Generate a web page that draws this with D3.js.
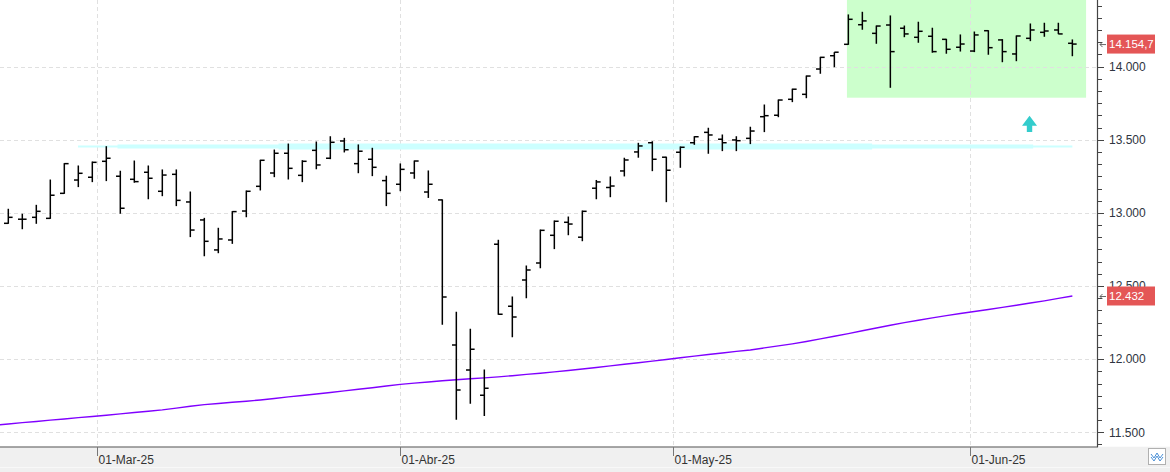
<!DOCTYPE html>
<html><head><meta charset="utf-8">
<script src="https://cdn.jsdelivr.net/npm/d3@7"></script>
<style>
html,body{margin:0;padding:0;background:#fff;}
svg{display:block;}
</style></head>
<body>
<svg id="chart" width="1170" height="472"></svg>
<script>
// ---------- DATA ----------
const dates = [
"2025-02-20","2025-02-21","2025-02-24","2025-02-25","2025-02-26","2025-02-27","2025-02-28",
"2025-03-03","2025-03-04","2025-03-05","2025-03-06","2025-03-07",
"2025-03-10","2025-03-11","2025-03-12","2025-03-13","2025-03-14",
"2025-03-17","2025-03-18","2025-03-19","2025-03-20","2025-03-21",
"2025-03-24","2025-03-25","2025-03-26","2025-03-27","2025-03-28","2025-03-31",
"2025-04-01","2025-04-02","2025-04-03","2025-04-04",
"2025-04-07","2025-04-08","2025-04-09","2025-04-10","2025-04-11",
"2025-04-14","2025-04-15","2025-04-16","2025-04-17",
"2025-04-22","2025-04-23","2025-04-24","2025-04-25",
"2025-04-28","2025-04-29","2025-04-30",
"2025-05-02","2025-05-05","2025-05-06","2025-05-07","2025-05-08","2025-05-09",
"2025-05-12","2025-05-13","2025-05-14","2025-05-15","2025-05-16",
"2025-05-19","2025-05-20","2025-05-21","2025-05-22","2025-05-23",
"2025-05-26","2025-05-27","2025-05-28","2025-05-29","2025-05-30",
"2025-06-02","2025-06-03","2025-06-04","2025-06-05","2025-06-06",
"2025-06-09","2025-06-10","2025-06-11"
];
const openVals = [12929,12957,12970,12963,13134,13225,13244,13353,13251,13230,13278,13148,13264,13075,12952,12747,12815,13013,13182,13273,13408,13257,13428,13374,13492,13337,13367,13221,13196,13273,13143,13089,12097,11926,11753,12786,12362,12542,12658,12847,12936,12834,13169,13174,13287,13417,13480,13381,13415,13480,13551,13504,13499,13510,13658,13668,13777,13811,13984,14075,14153,14287,14228,14285,14263,14201,14208,14187,14133,14107,14246,14183,14087,14194,14235,14251,14160];
const highVals = [13025,12991,13052,13225,13337,13321,13348,13453,13285,13355,13321,13294,13294,13143,12963,12895,13009,13150,13360,13430,13471,13357,13485,13521,13510,13465,13442,13251,13335,13355,13287,13089,12321,12204,11926,12813,12425,12637,12883,12945,12972,13013,13222,13246,13374,13476,13487,13381,13451,13521,13579,13533,13521,13586,13738,13772,13846,13936,14064,14096,14354,14372,14278,14347,14278,14304,14263,14187,14217,14237,14246,14185,14210,14292,14297,14297,14183];
const lowVals = [12929,12892,12929,12963,13134,13180,13214,13221,12998,13210,13097,13118,13050,12838,12708,12728,12792,12974,13157,13248,13232,13214,13302,13371,13417,13275,13255,13050,13152,13237,13106,12239,11589,11698,11614,12307,12154,12420,12626,12756,12851,12810,13097,13111,13253,13381,13289,13077,13312,13469,13408,13426,13426,13474,13556,13658,13761,13788,13955,14000,14153,14256,14160,13859,14205,14167,14099,14092,14107,14103,14085,14034,14041,14178,14208,14226,14075];
const closeVals = [12970,12957,13011,13121,13337,13271,13346,13374,13032,13214,13237,13259,13086,12883,12806,12822,13009,13148,13360,13408,13305,13353,13328,13483,13432,13422,13312,13134,13298,13355,13196,12425,11789,12068,11801,12307,12289,12610,12881,12943,12924,13011,13212,13184,13362,13458,13367,13292,13449,13521,13533,13480,13494,13560,13665,13772,13846,13936,14064,14099,14324,14313,14278,14103,14224,14242,14103,14119,14155,14217,14130,14103,14210,14251,14244,14224,14154.7];
// moving average; first value belongs to the session before the first bar (2025-02-19)
const maStartIndex = -1;
const maVals = [11547,11557,11566,11574,11583,11591,11600,11608,11617,11626,11635,11644,11653,11665,11678,11689,11697,11705,11712,11721,11731,11742,11752,11762,11772,11783,11794,11805,11817,11828,11836,11844,11852,11859,11866,11872,11879,11887,11896,11904,11913,11923,11933,11943,11954,11965,11976,11987,11998,12010,12021,12032,12042,12053,12063,12077,12091,12105,12121,12139,12157,12175,12194,12213,12232,12250,12266,12282,12298,12312,12326,12340,12354,12369,12384,12399,12416,12432];
// horizontal resistance level drawings (bar index start / end)
const levelValue = 13455;
const levelStart = [4.98, 7.8, 19.3];
const levelEnd = [76.0, 73.2, 61.7];
// highlighted consolidation zone
const zoneStart = 59.9, zoneEnd = 76.98, zoneLow = 13788;
// arrow marker
const arrowIndex = 72.94, arrowTip = 13665, arrowBase = 13553;
// axis ticks
const yTicks = [11500,12000,12500,13000,13500,14000];
const monthStarts = ["2025-03-01","2025-04-01","2025-05-01","2025-06-01"];
const monthLabels = ["01-Mar-25","01-Abr-25","01-May-25","01-Jun-25"];

// ---------- SETUP ----------
const W = 1170, H = 472;
const plotR = 1097, plotB = 446.7;
const svg = d3.select("#chart");
const loc = d3.formatLocale({decimal: ",", thousands: ".", grouping: [3], currency: ["", "€"]});
const fmt0 = loc.format(",.0f"), fmt1 = loc.format(",.1f");
const FONT = "'Liberation Sans', Arial, sans-serif";

const x = d3.scaleLinear().domain([-0.593, 77.76]).range([0, plotR]);
const y = d3.scaleLinear().domain([11401.5, 14456]).range([plotB, 0]);

const parse = d3.utcParse("%Y-%m-%d");
const dt = dates.map(parse);
function datePos(s) {
  const t = parse(s);
  for (let i = 0; i < dt.length - 1; i++) {
    if (t >= dt[i] && t < dt[i + 1]) return i + (t - dt[i]) / (dt[i + 1] - dt[i]);
  }
  return dt.length - 1;
}
const monthPos = monthStarts.map(datePos);

svg.append("rect").attr("width", W).attr("height", H).attr("fill", "#fff");

svg.append("defs").append("clipPath").attr("id", "clip")
  .append("rect").attr("x", 0).attr("y", 0).attr("width", plotR).attr("height", plotB);

const plot = svg.append("g").attr("clip-path", "url(#clip)");

// zone
plot.append("rect")
  .attr("x", x(zoneStart)).attr("y", y(y.domain()[1]))
  .attr("width", x(zoneEnd) - x(zoneStart))
  .attr("height", y(zoneLow) - y(y.domain()[1]))
  .attr("fill", "#ccffcc");

// grid
plot.append("g").selectAll("line").data(yTicks).join("line")
  .attr("x1", 0).attr("x2", plotR)
  .attr("y1", d => Math.round(y(d)) + 0.5).attr("y2", d => Math.round(y(d)) + 0.5)
  .attr("stroke", "#e0e0e0").attr("stroke-dasharray", "4,3");
plot.append("g").selectAll("line").data(monthPos).join("line")
  .attr("x1", d => Math.round(x(d)) + 0.5).attr("x2", d => Math.round(x(d)) + 0.5)
  .attr("y1", 0).attr("y2", plotB)
  .attr("stroke", "#e0e0e0").attr("stroke-dasharray", "4,3");

// resistance level
const levelW = [2, 4, 6];
plot.append("g").selectAll("line").data(levelStart).join("line")
  .attr("x1", (d) => x(d)).attr("x2", (d, i) => x(levelEnd[i]))
  .attr("y1", y(levelValue)).attr("y2", y(levelValue))
  .attr("stroke", "#ccffff").attr("stroke-width", (d, i) => levelW[i]);

// moving average
const maData = maVals.map((v, k) => ({i: k + maStartIndex, v}));
plot.append("path").datum(maData)
  .attr("fill", "none").attr("stroke", "#8000ff").attr("stroke-width", 1.4)
  .attr("d", d3.line().x(d => x(d.i)).y(d => y(d.v)));

// OHLC bars
const bars = dates.map((d, i) => ({i, o: openVals[i], h: highVals[i], l: lowVals[i], c: closeVals[i]}));
const tk = 4.3;
const bg = plot.append("g").attr("stroke", "#000").attr("stroke-width", 1.5);
bars.forEach(b => {
  const cx = x(b.i);
  bg.append("line").attr("x1", cx).attr("x2", cx).attr("y1", y(b.h) - 0.5).attr("y2", y(b.l) + 0.5);
  bg.append("line").attr("x1", cx - tk).attr("x2", cx).attr("y1", y(b.o)).attr("y2", y(b.o));
  bg.append("line").attr("x1", cx).attr("x2", cx + tk).attr("y1", y(b.c)).attr("y2", y(b.c));
});

// arrow
{
  const ax = x(arrowIndex), yt = y(arrowTip), yb = y(arrowBase);
  const headH = (yb - yt) * 0.62;
  plot.append("path")
    .attr("d", `M${ax},${yt} L${ax + 7.5},${yt + headH} L${ax + 2.7},${yt + headH} L${ax + 2.7},${yb} L${ax - 2.7},${yb} L${ax - 2.7},${yt + headH} L${ax - 7.5},${yt + headH} Z`)
    .attr("fill", "#33cccc");
}

// ---------- BOTTOM BAND ----------
svg.append("rect").attr("x", 0).attr("y", plotB).attr("width", W).attr("height", H - plotB).attr("fill", "#f0f0f0");
svg.append("line").attr("x1", 0).attr("x2", W).attr("y1", 467.5).attr("y2", 467.5).attr("stroke", "#f8f8f8");
svg.append("line").attr("x1", 0).attr("x2", plotR + 1).attr("y1", 447).attr("y2", 447)
  .attr("stroke", "#555").attr("stroke-width", 1.2);

// x ticks
const xt = svg.append("g");
monthPos.forEach((p, k) => {
  const px = Math.round(x(p)) + 0.5;
  xt.append("line").attr("x1", px).attr("x2", px).attr("y1", 447).attr("y2", 456).attr("stroke", "#777");
  xt.append("text").attr("x", px + 1).attr("y", 463.5).text(monthLabels[k])
    .attr("font-family", FONT).attr("font-size", 12).attr("fill", "#333");
});

// ---------- Y AXIS ----------
svg.append("line").attr("x1", plotR + 0.5).attr("x2", plotR + 0.5).attr("y1", 0).attr("y2", 447)
  .attr("stroke", "#444").attr("stroke-width", 1.2);
const minorStep = 500 / 6;
const minors = [];
for (let v = 11500 - minorStep; v <= y.domain()[1]; v += minorStep) {
  if (v >= y.domain()[0] && !yTicks.some(t => Math.abs(t - v) < 1)) minors.push(v);
}
const ya = svg.append("g");
ya.selectAll("line.minor").data(minors).join("line").attr("class", "minor")
  .attr("x1", plotR).attr("x2", plotR + 5)
  .attr("y1", d => Math.round(y(d)) + 0.5).attr("y2", d => Math.round(y(d)) + 0.5)
  .attr("stroke", "#444");
ya.selectAll("line.major").data(yTicks).join("line").attr("class", "major")
  .attr("x1", plotR).attr("x2", plotR + 7)
  .attr("y1", d => Math.round(y(d)) + 0.5).attr("y2", d => Math.round(y(d)) + 0.5)
  .attr("stroke", "#444");
ya.selectAll("text").data(yTicks).join("text")
  .attr("x", 1109).attr("y", d => y(d) + 4.3)
  .attr("font-family", FONT).attr("font-size", 12).attr("fill", "#2e3440")
  .text(d => fmt0(d));

// price labels
const lastClose = closeVals[closeVals.length - 1];
const lastMa = maVals[maVals.length - 1];
[[lastClose, fmt1(lastClose)], [lastMa, fmt0(lastMa)]].forEach(([v, txt]) => {
  const py = y(v);
  const g = svg.append("g");
  g.append("rect").attr("x", 1107).attr("y", py - 9.5).attr("width", 48).attr("height", 19).attr("fill", "#e45656");
  g.append("text").attr("x", 1109).attr("y", py + 4.3).text(txt)
    .attr("font-family", FONT).attr("font-size", 11.5).attr("fill", "#fff");
  g.append("path").attr("d", `M1100,${py + 0.5} L1106,${py + 0.5} M1100,${py + 0.5} L1102.5,${py - 2} M1100,${py + 0.5} L1102.5,${py + 3}`)
    .attr("stroke", "#555").attr("fill", "none").attr("stroke-width", 0.9);
});

// corner icon
const ic = svg.append("g");
ic.append("rect").attr("x", 1148.5).attr("y", 448.5).attr("width", 17).attr("height", 16).attr("fill", "#fff").attr("stroke", "#b0b0b0");
ic.append("path").attr("d", "M1151,454 L1154,458 L1157,453 L1160,458 L1163,454 M1151,457 L1154,461 L1157,456 L1160,461 L1163,457")
  .attr("stroke", "#4a8fd6").attr("fill", "none").attr("stroke-width", 1);
</script>
</body></html>
